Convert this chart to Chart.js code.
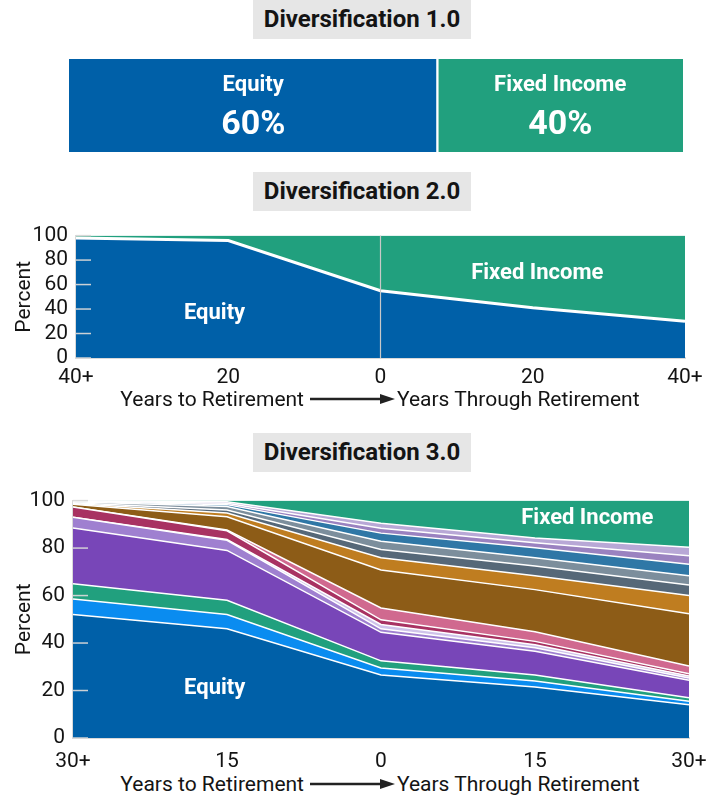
<!DOCTYPE html>
<html>
<head>
<meta charset="utf-8">
<script src="https://cdn.jsdelivr.net/npm/chart.js@4.4.0/dist/chart.umd.min.js"></script>
<style>
body { margin: 0; background: #fff; font-family: Roboto, sans-serif; }
#page { position: relative; width: 721px; height: 795px; overflow: hidden; }
.titre { position: absolute; left: 253px; width: 218px; height: 39px; line-height: 39px; background: #e6e6e6;
         text-align: center; font-weight: bold; font-size: 24px; color: #141414; }
canvas { position: absolute; }
.axe { position: absolute; font-size: 21px; line-height: 24px; color: #141414; white-space: nowrap; }
svg { position: absolute; }
</style>
</head>
<body>
<div id="page">
  <div class="titre" style="top:0">Diversification 1.0</div>
  <canvas id="g10" width="614" height="93" style="left:69px;top:59px"></canvas>

  <div class="titre" style="top:172px">Diversification 2.0</div>
  <canvas id="g20" width="721" height="180" style="left:0;top:215px"></canvas>
  <div class="axe" style="right:417px;top:387px">Years to Retirement</div>
  <svg style="left:310px;top:392px" width="86" height="14"><line x1="0" y1="7" x2="74" y2="7" stroke="#222" stroke-width="2.5"/><polygon points="70,2 85,7 70,12" fill="#222"/></svg>
  <div class="axe" style="left:397px;top:387px">Years Through Retirement</div>

  <div class="titre" style="top:433px">Diversification 3.0</div>
  <canvas id="g30" width="721" height="290" style="left:0;top:480px"></canvas>
  <div class="axe" style="right:417px;top:772px">Years to Retirement</div>
  <svg style="left:310px;top:777px" width="86" height="14"><line x1="0" y1="7" x2="74" y2="7" stroke="#222" stroke-width="2.5"/><polygon points="70,2 85,7 70,12" fill="#222"/></svg>
  <div class="axe" style="left:397px;top:772px">Years Through Retirement</div>
</div>
<script>
// Diversification 1.0
const cat10 = ['Equity', 'Fixed Income'];
const val10 = [60, 40];

// Diversification 2.0
const labels20 = ['40+', '20', '0', '20', '40+'];
const equity20 = [98, 96, 55, 41, 30];
const fixed20 = [2, 4, 45, 59, 70];

// Diversification 3.0 (couches du bas vers le haut)
const labels30 = ['30+', '15', '0', '15', '30+'];
const equity30 = [52, 46, 26.5, 21.5, 14];
const brightBlue30 = [6.5, 6, 3, 2.5, 1.5];
const green30 = [6.5, 6, 3, 2.5, 1.5];
const purple30 = [23.5, 21, 12, 10, 7.3];
const lightPurple30 = [4.5, 4.3, 1.5, 1.5, 1];
const pale30 = [0, 0.3, 1.8, 1.3, 0.8];
const red30 = [4.3, 3.7, 2, 1.4, 1];
const pink30 = [0, 0.3, 5, 4.1, 3.2];
const brown30 = [1.2, 5.6, 16, 17.7, 22];
const orange30 = [0.3, 1.6, 5.1, 5.8, 7.7];
const slate30 = [0.3, 1.2, 3.5, 4.2, 4.4];
const lightSlate30 = [0.4, 1.5, 3.5, 3.4, 3.9];
const steel30 = [0.2, 0.8, 3.4, 4.2, 4.9];
const medPurple30 = [0.15, 0.6, 2.1, 2.1, 3.6];
const lavender30 = [0.15, 0.6, 2.1, 2, 3.5];
const fixed30 = [0, 0.5, 9.5, 15.8, 19.7];

const BLEU = '#0060a8';
const VERT = '#21a07e';

Chart.defaults.font.family = 'Roboto, sans-serif';
Chart.defaults.font.size = 21;
Chart.defaults.color = '#141414';

// petites graduations dessinees a l'interieur du graphique
const graduations = {
    id: 'graduations',
    afterDatasetsDraw(chart) {
        const ctx = chart.ctx;
        const y = chart.scales.y;
        const left = chart.chartArea.left;
        ctx.save();
        ctx.strokeStyle = 'rgba(215,215,215,0.95)';
        ctx.lineWidth = 1.5;
        y.ticks.forEach(function(t) {
            const py = y.getPixelForValue(t.value);
            ctx.beginPath();
            ctx.moveTo(left, py);
            ctx.lineTo(left + 15, py);
            ctx.stroke();
        });
        ctx.restore();
    }
};

// textes blancs dans les aires
const etiquettes = {
    id: 'etiquettes',
    afterDatasetsDraw(chart, args, opts) {
        if (!opts.items) return;
        const ctx = chart.ctx;
        ctx.save();
        ctx.fillStyle = '#fff';
        ctx.font = 'bold 22px Roboto, sans-serif';
        ctx.textAlign = 'center';
        ctx.textBaseline = 'middle';
        opts.items.forEach(function(it) {
            ctx.fillText(it.text, chart.scales.x.getPixelForValue(it.i), chart.scales.y.getPixelForValue(it.v));
        });
        ctx.restore();
    }
};

// ligne verticale a la retraite
const ligneZero = {
    id: 'ligneZero',
    afterDatasetsDraw(chart, args, opts) {
        if (opts.index === undefined) return;
        const ctx = chart.ctx;
        const px = chart.scales.x.getPixelForValue(opts.index);
        ctx.save();
        ctx.strokeStyle = '#c8c8c8';
        ctx.lineWidth = 1.2;
        ctx.beginPath();
        ctx.moveTo(px, chart.chartArea.top);
        ctx.lineTo(px, chart.chartArea.bottom);
        ctx.stroke();
        ctx.restore();
    }
};

// ---- Diversification 1.0 ----
new Chart(document.getElementById('g10').getContext('2d'), {
    type: 'bar',
    data: {
        labels: [''],
        datasets: [{
            label: cat10[0], data: [val10[0]], backgroundColor: BLEU,
            borderColor: '#fff', borderWidth: {left: 0, top: 0, bottom: 0, right: 1.5}, borderSkipped: false
        }, {
            label: cat10[1], data: [val10[1]], backgroundColor: VERT,
            borderColor: '#fff', borderWidth: {left: 1.5, top: 0, bottom: 0, right: 0}, borderSkipped: false
        }]
    },
    options: {
        indexAxis: 'y',
        responsive: false,
        animation: false,
        events: [],
        layout: { padding: 0 },
        barPercentage: 1,
        categoryPercentage: 1,
        plugins: { legend: { display: false }, tooltip: { enabled: false } },
        scales: {
            x: { stacked: true, min: 0, max: 100, display: false },
            y: { stacked: true, display: false }
        }
    },
    plugins: [{
        id: 'texteBarre',
        afterDatasetsDraw(chart) {
            const ctx = chart.ctx;
            ctx.save();
            ctx.fillStyle = '#fff';
            ctx.textAlign = 'center';
            ctx.textBaseline = 'middle';
            chart.data.datasets.forEach(function(ds, i) {
                const bar = chart.getDatasetMeta(i).data[0];
                const cx = (bar.x + bar.base) / 2;
                ctx.font = 'bold 22px Roboto, sans-serif';
                ctx.fillText(ds.label, cx, bar.y - 20);
                ctx.font = 'bold 34px Roboto, sans-serif';
                ctx.fillText(ds.data[0] + '%', cx, bar.y + 20);
            });
            ctx.restore();
        }
    }]
});

function axes(largeurY, hauteurX, padX) {
    return {
        x: {
            grid: { drawOnChartArea: false, drawTicks: false },
            border: { display: true, color: '#d9d9d9', width: 2 },
            ticks: { padding: padX, maxRotation: 0, autoSkip: false },
            afterFit: function(s) { s.height = hauteurX; }
        },
        y: {
            stacked: true,
            min: 0,
            max: 100,
            grid: { drawOnChartArea: false, drawTicks: false },
            border: { display: true, color: '#d9d9d9', width: 2 },
            ticks: { stepSize: 20, padding: 8, autoSkip: false },
            title: { display: true, text: 'Percent', padding: { top: 12, bottom: 0 } },
            afterFit: function(s) { s.width = largeurY; }
        }
    };
}

// ---- Diversification 2.0 ----
new Chart(document.getElementById('g20').getContext('2d'), {
    type: 'line',
    data: {
        labels: labels20,
        datasets: [{
            label: 'Equity', data: equity20, backgroundColor: BLEU, fill: 'origin',
            borderColor: '#fff', borderWidth: 3, pointRadius: 0, tension: 0
        }, {
            label: 'Fixed Income', data: fixed20, backgroundColor: VERT, fill: '-1',
            borderWidth: 0, pointRadius: 0, tension: 0
        }]
    },
    options: {
        responsive: false,
        animation: false,
        events: [],
        layout: { padding: { top: 20, right: 36, left: 0, bottom: 0 } },
        plugins: {
            legend: { display: false },
            tooltip: { enabled: false },
            ligneZero: { index: 2 },
            etiquettes: { items: [{ text: 'Equity', i: 0.91, v: 36 }, { text: 'Fixed Income', i: 3.03, v: 69 }] }
        },
        scales: axes(76, 37, 7)
    },
    plugins: [graduations, ligneZero, etiquettes]
});

// ---- Diversification 3.0 ----
const couches = [
    ['Equity', equity30, BLEU],
    ['Bright blue', brightBlue30, '#0a8cf0'],
    ['Green', green30, VERT],
    ['Purple', purple30, '#7846b8'],
    ['Light purple', lightPurple30, '#9f80d0'],
    ['Pale', pale30, '#cfc3ea'],
    ['Red', red30, '#a83262'],
    ['Pink', pink30, '#d0698f'],
    ['Brown', brown30, '#8d5c17'],
    ['Orange', orange30, '#bf7d20'],
    ['Slate', slate30, '#566878'],
    ['Light slate', lightSlate30, '#7c8e9c'],
    ['Steel', steel30, '#2f77a6'],
    ['Medium purple', medPurple30, '#9a82c0'],
    ['Lavender', lavender30, '#b8a8d6'],
    ['Fixed Income', fixed30, VERT]
];

new Chart(document.getElementById('g30').getContext('2d'), {
    type: 'line',
    data: {
        labels: labels30,
        datasets: couches.map(function(c, i) {
            return {
                label: c[0], data: c[1], backgroundColor: c[2],
                fill: i === 0 ? 'origin' : '-1',
                borderColor: '#fff', borderWidth: i === couches.length - 1 ? 0 : 1.5,
                pointRadius: 0, tension: 0
            };
        })
    },
    options: {
        responsive: false,
        animation: false,
        events: [],
        layout: { padding: { top: 17, right: 32, left: 0, bottom: 0 } },
        plugins: {
            legend: { display: false },
            tooltip: { enabled: false },
            etiquettes: { items: [{ text: 'Equity', i: 0.92, v: 21 }, { text: 'Fixed Income', i: 3.34, v: 92.5 }] }
        },
        scales: axes(73, 32, 11)
    },
    plugins: [graduations, etiquettes]
});
</script>
</body>
</html>
